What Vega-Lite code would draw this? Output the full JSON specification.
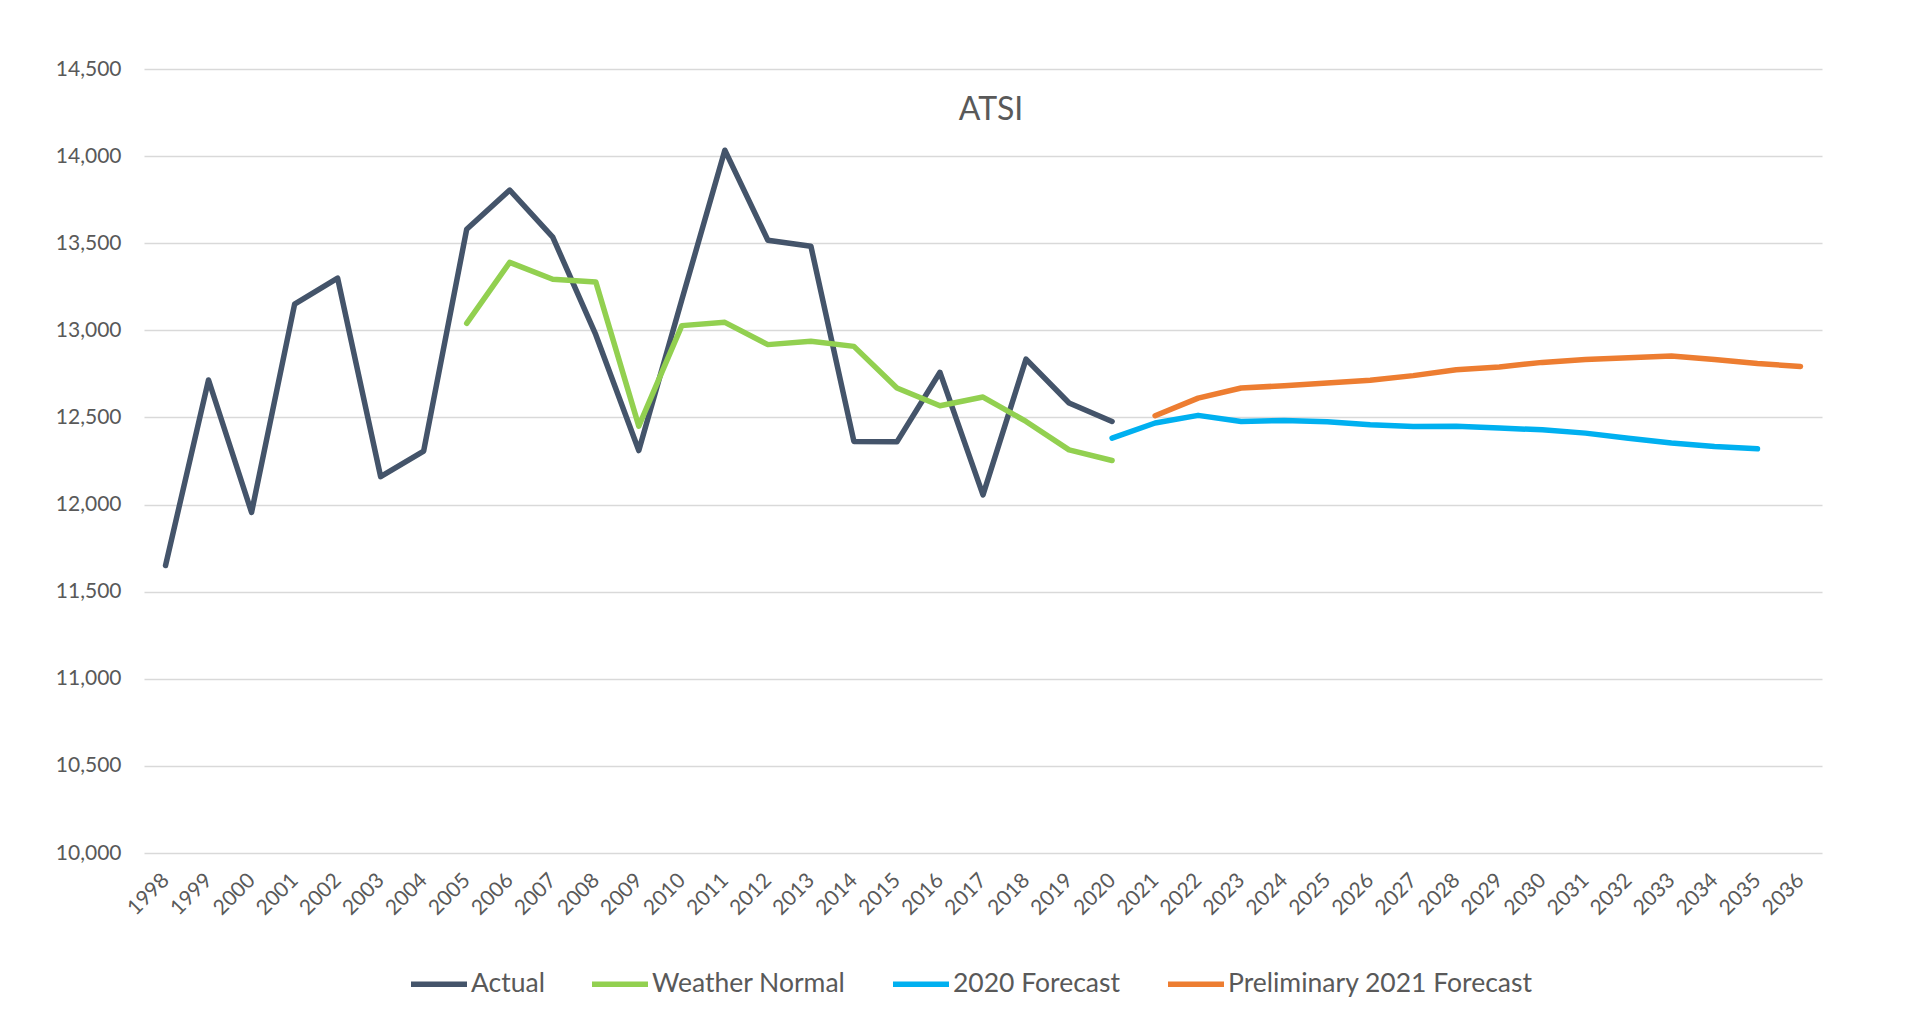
{
  "$schema": "https://vega.github.io/schema/vega-lite/v6.json",
  "autosize": "none",
  "width": 1678,
  "height": 784,
  "padding": {"left": 144, "top": 69, "right": 107, "bottom": 168},
  "background": "#ffffff",
  "title": {
    "text": "ATSI",
    "anchor": "middle",
    "frame": "group",
    "offset": -101,
    "dx": 8,
    "baseline": "bottom",
    "font": "Lato",
    "fontSize": 32,
    "fontWeight": "normal",
    "color": "#595959"
  },
  "config": {
    "view": {"stroke": null},
    "font": "Lato"
  },
  "data": {
    "values": [
      {"year": "1998", "series": "Actual", "value": 11650},
      {"year": "1999", "series": "Actual", "value": 12715},
      {"year": "2000", "series": "Actual", "value": 11955},
      {"year": "2001", "series": "Actual", "value": 13150},
      {"year": "2002", "series": "Actual", "value": 13300},
      {"year": "2003", "series": "Actual", "value": 12160},
      {"year": "2004", "series": "Actual", "value": 12307},
      {"year": "2005", "series": "Actual", "value": 13580},
      {"year": "2006", "series": "Actual", "value": 13805},
      {"year": "2007", "series": "Actual", "value": 13535},
      {"year": "2008", "series": "Actual", "value": 12975},
      {"year": "2009", "series": "Actual", "value": 12310},
      {"year": "2010", "series": "Actual", "value": 13175},
      {"year": "2011", "series": "Actual", "value": 14034},
      {"year": "2012", "series": "Actual", "value": 13517},
      {"year": "2013", "series": "Actual", "value": 13483},
      {"year": "2014", "series": "Actual", "value": 12362},
      {"year": "2015", "series": "Actual", "value": 12360},
      {"year": "2016", "series": "Actual", "value": 12759},
      {"year": "2017", "series": "Actual", "value": 12056},
      {"year": "2018", "series": "Actual", "value": 12835},
      {"year": "2019", "series": "Actual", "value": 12583},
      {"year": "2020", "series": "Actual", "value": 12477},
      {"year": "2005", "series": "Weather Normal", "value": 13040},
      {"year": "2006", "series": "Weather Normal", "value": 13390},
      {"year": "2007", "series": "Weather Normal", "value": 13293},
      {"year": "2008", "series": "Weather Normal", "value": 13278},
      {"year": "2009", "series": "Weather Normal", "value": 12450},
      {"year": "2010", "series": "Weather Normal", "value": 13027},
      {"year": "2011", "series": "Weather Normal", "value": 13046},
      {"year": "2012", "series": "Weather Normal", "value": 12918},
      {"year": "2013", "series": "Weather Normal", "value": 12937},
      {"year": "2014", "series": "Weather Normal", "value": 12908},
      {"year": "2015", "series": "Weather Normal", "value": 12669},
      {"year": "2016", "series": "Weather Normal", "value": 12567},
      {"year": "2017", "series": "Weather Normal", "value": 12617},
      {"year": "2018", "series": "Weather Normal", "value": 12477},
      {"year": "2019", "series": "Weather Normal", "value": 12314},
      {"year": "2020", "series": "Weather Normal", "value": 12253},
      {"year": "2020", "series": "2020 Forecast", "value": 12381},
      {"year": "2021", "series": "2020 Forecast", "value": 12468},
      {"year": "2022", "series": "2020 Forecast", "value": 12512},
      {"year": "2023", "series": "2020 Forecast", "value": 12477},
      {"year": "2024", "series": "2020 Forecast", "value": 12483},
      {"year": "2025", "series": "2020 Forecast", "value": 12475},
      {"year": "2026", "series": "2020 Forecast", "value": 12458},
      {"year": "2027", "series": "2020 Forecast", "value": 12448},
      {"year": "2028", "series": "2020 Forecast", "value": 12450},
      {"year": "2029", "series": "2020 Forecast", "value": 12439},
      {"year": "2030", "series": "2020 Forecast", "value": 12429},
      {"year": "2031", "series": "2020 Forecast", "value": 12410},
      {"year": "2032", "series": "2020 Forecast", "value": 12381},
      {"year": "2033", "series": "2020 Forecast", "value": 12353},
      {"year": "2034", "series": "2020 Forecast", "value": 12333},
      {"year": "2035", "series": "2020 Forecast", "value": 12320},
      {"year": "2021", "series": "Preliminary 2021 Forecast", "value": 12510},
      {"year": "2022", "series": "Preliminary 2021 Forecast", "value": 12611},
      {"year": "2023", "series": "Preliminary 2021 Forecast", "value": 12669},
      {"year": "2024", "series": "Preliminary 2021 Forecast", "value": 12682},
      {"year": "2025", "series": "Preliminary 2021 Forecast", "value": 12698},
      {"year": "2026", "series": "Preliminary 2021 Forecast", "value": 12713},
      {"year": "2027", "series": "Preliminary 2021 Forecast", "value": 12740},
      {"year": "2028", "series": "Preliminary 2021 Forecast", "value": 12774},
      {"year": "2029", "series": "Preliminary 2021 Forecast", "value": 12790},
      {"year": "2030", "series": "Preliminary 2021 Forecast", "value": 12816},
      {"year": "2031", "series": "Preliminary 2021 Forecast", "value": 12832},
      {"year": "2032", "series": "Preliminary 2021 Forecast", "value": 12843},
      {"year": "2033", "series": "Preliminary 2021 Forecast", "value": 12853},
      {"year": "2034", "series": "Preliminary 2021 Forecast", "value": 12832},
      {"year": "2035", "series": "Preliminary 2021 Forecast", "value": 12809},
      {"year": "2036", "series": "Preliminary 2021 Forecast", "value": 12793}
    ]
  },
  "mark": {"type": "line", "strokeWidth": 5.5, "strokeCap": "round", "strokeJoin": "round"},
  "encoding": {
    "x": {
      "field": "year",
      "type": "ordinal",
      "sort": "ascending",
      "scale": {"type": "point", "padding": 0.5},
      "axis": {
        "title": null,
        "domain": false,
        "ticks": false,
        "grid": false,
        "labelAngle": -45,
        "labelAlign": "right",
        "labelBaseline": "middle",
        "labelPadding": 24,
        "labelFont": "Lato",
        "labelFontSize": 21,
        "labelColor": "#595959"
      }
    },
    "y": {
      "field": "value",
      "type": "quantitative",
      "scale": {"domain": [10000, 14500], "nice": false, "zero": false},
      "axis": {
        "title": null,
        "values": [10000, 10500, 11000, 11500, 12000, 12500, 13000, 13500, 14000, 14500],
        "format": ",d",
        "domain": false,
        "ticks": false,
        "grid": true,
        "gridColor": "#d9d9d9",
        "gridWidth": 1.5,
        "labelPadding": 23,
        "labelFont": "Lato",
        "labelFontSize": 21,
        "labelColor": "#595959"
      }
    },
    "color": {
      "field": "series",
      "type": "nominal",
      "scale": {
        "domain": ["Actual", "Weather Normal", "2020 Forecast", "Preliminary 2021 Forecast"],
        "range": ["#44546A", "#92D050", "#00B0F0", "#ED7D31"]
      },
      "legend": {
        "title": null,
        "orient": "none",
        "direction": "horizontal",
        "legendX": 264,
        "legendY": 884,
        "padding": 0,
        "symbolType": "stroke",
        "symbolSize": 3136,
        "symbolStrokeWidth": 5.5,
        "labelOffset": 1,
        "columnPadding": 36,
        "labelFont": "Lato",
        "labelFontSize": 26.5,
        "labelColor": "#595959",
        "labelLimit": 0
      }
    }
  }
}
